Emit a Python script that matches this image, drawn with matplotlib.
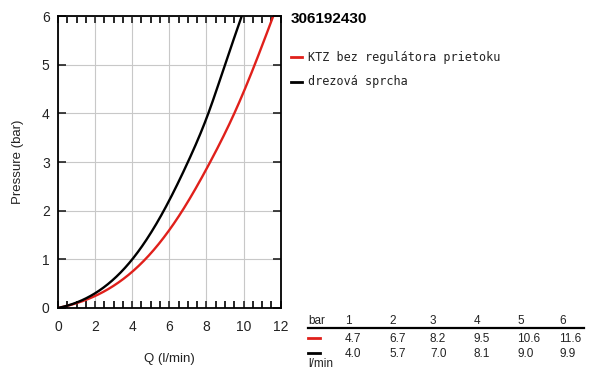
import numpy as np
import matplotlib
matplotlib.use("Agg")
import matplotlib.pyplot as plt
from matplotlib.ticker import MultipleLocator

plt.rcParams['font.family'] = ['Liberation Sans', 'DejaVu Sans']

pressure = [0, 1, 2, 3, 4, 5, 6]
flow_ktz = [0, 4.7, 6.7, 8.2, 9.5, 10.6, 11.6]
flow_drez = [0, 4.0, 5.7, 7.0, 8.1, 9.0, 9.9]
series_names = ["KTZ bez regulátora prietoku", "drezová sprcha"]
series_colors = ["#e0201b", "#000000"]
title = "306192430"

def clamped_spline(x, y, s0, xs):
    # cubic spline with given start slope, natural end
    x = np.asarray(x, float); y = np.asarray(y, float)
    n = len(x); h = np.diff(x)
    A = np.zeros((n, n)); b = np.zeros(n)
    A[0, 0] = 2*h[0]; A[0, 1] = h[0]
    b[0] = 6*((y[1]-y[0])/h[0] - s0)
    for i in range(1, n-1):
        A[i, i-1] = h[i-1]; A[i, i] = 2*(h[i-1]+h[i]); A[i, i+1] = h[i]
        b[i] = 6*((y[i+1]-y[i])/h[i] - (y[i]-y[i-1])/h[i-1])
    A[-1, -1] = 1
    M = np.linalg.solve(A, b)
    out = np.empty_like(xs)
    for j, xv in enumerate(xs):
        k = int(np.clip(np.searchsorted(x, xv) - 1, 0, n-2))
        t1 = x[k+1] - xv; t0 = xv - x[k]
        out[j] = (M[k]*t1**3 + M[k+1]*t0**3)/(6*h[k]) + (y[k]/h[k] - M[k]*h[k]/6)*t1 + (y[k+1]/h[k] - M[k+1]*h[k]/6)*t0
    return out

fig = plt.figure(figsize=(6, 3.75), dpi=100)
ax = fig.add_axes([0.0967, 0.1787, 0.371, 0.778])

for flows, col in zip([flow_ktz, flow_drez], series_colors):
    qs = np.linspace(0, flows[-1], 300)
    ps = clamped_spline(flows, pressure, 0.08, qs)
    ax.plot(qs, ps, color=col, lw=1.7, solid_capstyle='butt')

ax.set_xlim(0, 12)
ax.set_ylim(0, 6)
ax.xaxis.set_major_locator(MultipleLocator(2))
ax.xaxis.set_minor_locator(MultipleLocator(0.5))
ax.yaxis.set_major_locator(MultipleLocator(1))
ax.grid(True, which='major', color='#c8c8c8', lw=0.8)
ax.tick_params(axis='x', which='both', direction='in', top=True, bottom=True, length=5, width=1.2)
ax.tick_params(axis='x', which='major', pad=9)
ax.tick_params(axis='y', which='major', direction='in', left=True, right=True, length=6, width=1.2, pad=6)
ax.tick_params(labelsize=10, colors='#222222')
for s in ax.spines.values():
    s.set_linewidth(1.3)
ax.set_xlabel("Q (l/min)", fontsize=9.5, labelpad=13, color='#222222')
ax.set_ylabel("Pressure (bar)", fontsize=9.5, labelpad=13, color='#222222')

# title and legend
fig.text(291/600, 1 - 19/375, title, fontsize=11, fontweight='bold', va='center', ha='left')
for i, (name, col) in enumerate(zip(series_names, series_colors)):
    y = 1 - (57 + 25*i)/375
    fig.add_artist(plt.Line2D([291/600, 302/600], [y, y], color=col, lw=2, transform=fig.transFigure))
    fig.text(308/600, y, name, fontsize=8.5, family='DejaVu Sans Mono', va='center', ha='left', color='#222222')

# table
xs_col = [345, 389, 430, 474, 517, 559]
fs = 8.5
fig.text(308/600, 1 - 321/375, "bar", fontsize=fs, va='center', ha='left', color='#222222')
for xc, p in zip(xs_col, pressure[1:]):
    fig.text(xc/600, 1 - 321/375, str(p), fontsize=fs, va='center', ha='left', color='#222222')
fig.add_artist(plt.Line2D([308/600, 584/600], [1 - 328/375]*2, color='black', lw=1.6, transform=fig.transFigure))
for r, (flows, col) in enumerate(zip([flow_ktz, flow_drez], series_colors)):
    y = 1 - (339 + 15*r)/375
    fig.add_artist(plt.Line2D([308/600, 320/600], [y + 0.004, y + 0.004], color=col, lw=2, transform=fig.transFigure))
    for xc, q in zip(xs_col, flows[1:]):
        fig.text(xc/600, y, f"{q:.1f}", fontsize=fs, va='center', ha='left', color='#222222')
fig.text(308/600, 1 - 364/375, "l/min", fontsize=fs, va='center', ha='left', color='#222222')

fig.savefig("out.png", dpi=100)
